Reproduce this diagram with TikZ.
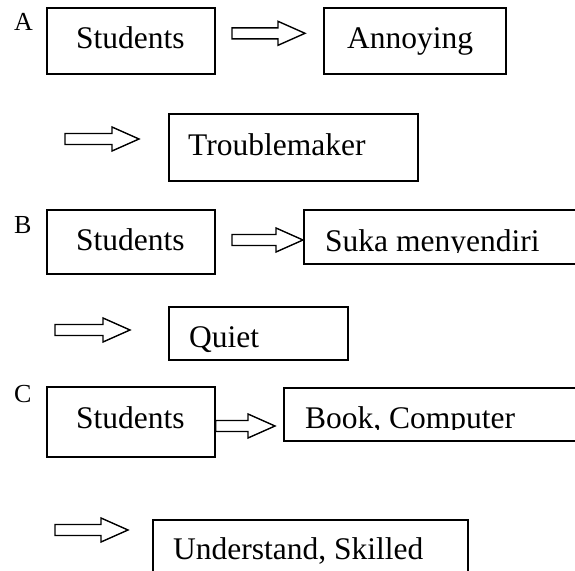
\documentclass[tikz,border=0pt]{standalone}
\usepackage{fontspec}
\setmainfont{Liberation Serif}
\usetikzlibrary{calc}
\tikzset{
  box/.style={draw, line width=1.6pt, inner sep=0pt, anchor=north west},
  txt/.style={anchor=base west, inner sep=0pt, font=\fontsize{31.5}{36}\selectfont},
  lbl/.style={anchor=base west, inner sep=0pt, font=\fontsize{26}{30}\selectfont},
  blockarrow/.style={draw, line width=1.4pt, line join=miter,
    to path={let \p1=(\tikztostart), \p2=(\tikztotarget) in
      (\x1,\y1+5.5pt) -- (\x2-27pt,\y1+5.5pt) -- (\x2-27pt,\y1+12pt) -- (\x2,\y1)
      -- (\x2-27pt,\y1-12pt) -- (\x2-27pt,\y1-5.5pt) -- (\x1,\y1-5.5pt) -- cycle}}
}
\begin{document}
\begin{tikzpicture}[x=1pt, y=-1pt]
\clip (0,0) rectangle (575,570);
\fill[white] (0,0) rectangle (575,570);

% Row A
\node[lbl] (labA) at (14,30) {A};
\node[box, minimum width=168pt, minimum height=66pt] (stA) at (46,7) {};
\node[txt] (tstA) at (76,48) {Students};
\node[box, minimum width=182pt, minimum height=66pt] (ann) at (323,7) {};
\node[txt] (tann) at (347,48) {Annoying};
\node[box, minimum width=249pt, minimum height=67pt] (trb) at (168,113) {};
\node[txt] (ttrb) at (188,155) {Troublemaker};

\coordinate (a1s) at (232,33.3);
\coordinate (a1e) at (305,33.3);
\draw[blockarrow] (a1s) to (a1e);
\coordinate (a2s) at (65,139);
\coordinate (a2e) at (139,139);
\draw[blockarrow] (a2s) to (a2e);

% Row B
\node[lbl] (labB) at (14,233) {B};
\node[box, minimum width=168pt, minimum height=64pt] (stB) at (46,209) {};
\node[txt] (tstB) at (76,250) {Students};
\node[box, minimum width=290pt, minimum height=54pt] (suka) at (303,209) {};
\begin{scope}
  \clip (303,200) rectangle (575,252.5);
  \node[txt] (tsuka) at (325,251) {Suka menyendiri};
\end{scope}
\node[box, minimum width=179pt, minimum height=53pt] (qui) at (168,306) {};
\node[txt] (tqui) at (189,347) {Quiet};

\coordinate (b1s) at (232,240);
\coordinate (b1e) at (suka.west |- b1s);
\draw[blockarrow] (b1s) to (b1e);
\coordinate (b2s) at (55,330);
\coordinate (b2e) at (130,330);
\draw[blockarrow] (b2s) to (b2e);

% Row C
\node[lbl] (labC) at (14,402) {C};
\node[box, minimum width=168pt, minimum height=70pt] (stC) at (46,386) {};
\node[txt] (tstC) at (76,428) {Students};
\node[box, minimum width=310pt, minimum height=53pt] (book) at (283,387) {};
\begin{scope}
  \clip (283,380) rectangle (575,429.5);
  \node[txt] (tbook) at (305,428) {Book, Computer};
\end{scope}
\node[box, minimum width=315pt, minimum height=70pt] (und) at (152,519) {};
\node[txt] (tund) at (173,559) {Understand, Skilled};

\coordinate (c1s) at (stC.east |- 0,426);
\coordinate (c1e) at (275,426);
\draw[blockarrow] (c1s) to (c1e);
\coordinate (c2s) at (55,530);
\coordinate (c2e) at (128,530);
\draw[blockarrow] (c2s) to (c2e);
\end{tikzpicture}
\end{document}
